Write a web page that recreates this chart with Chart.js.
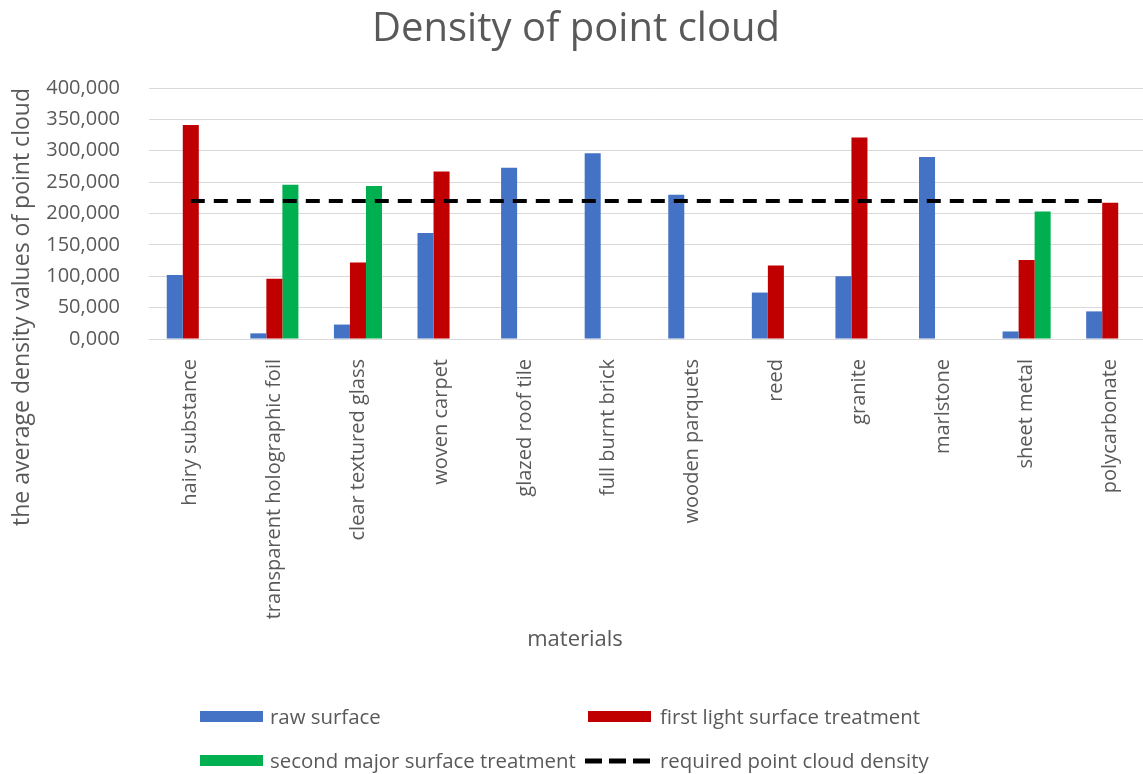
<!DOCTYPE html>
<html>
<head>
<meta charset="utf-8">
<title>Density of point cloud</title>
<script src="https://cdn.jsdelivr.net/npm/chart.js@4.4.1/dist/chart.umd.min.js"></script>
<style>
  html, body { margin: 0; padding: 0; background: #ffffff; overflow: hidden; }
  #wrap { position: relative; width: 1143px; height: 774px; overflow: hidden; background: #ffffff; }
  #c { position: absolute; left: 0; top: 0; }
  .lg-text { position: absolute; font-family: "Open Sans", sans-serif; font-size: 20.4px; line-height: 26px; color: #595959; white-space: nowrap; }
  .lg-box { position: absolute; }
  .lg-line { position: absolute; }
</style>
</head>
<body>
<div id="wrap">
  <canvas id="c" width="1152" height="774"></canvas>
  <div id="legend"></div>
</div>
<script>
// Materials on the x axis
const categories = [
  'hairy substance', 'transparent holographic foil', 'clear textured glass', 'woven carpet',
  'glazed roof tile', 'full burnt brick', 'wooden parquets', 'reed',
  'granite', 'marlstone', 'sheet metal', 'polycarbonate'
];

// Average point cloud density per material and treatment (null = not measured)
const rawSurface       = [102, 9, 23, 169, 273, 296, 230, 74, 100, 290, 12, 44];
const firstTreatment   = [341, 96, 122, 267, null, null, null, 117, 321, null, 126, 217];
const secondTreatment  = [null, 246, 244, null, null, null, null, null, null, null, 203, null];
const requiredDensity  = [220, 220, 220, 220, 220, 220, 220, 220, 220, 220, 220, 220];

// Value axis ticks
const densityTicks = [0, 50, 100, 150, 200, 250, 300, 350, 400];

const seriesLabels = [
  'raw surface',
  'first light surface treatment',
  'second major surface treatment',
  'required point cloud density'
];

const TEXT = '#595959';
const FONT = '"Open Sans", sans-serif';
const COLORS = ['#4472C4', '#C00000', '#00B050', '#000000'];

function fmtTick(v) {
  return Number(v).toFixed(3).replace('.', ',');
}

// Axis titles, placed relative to the whole figure rather than the plot area
const axisTitles = {
  id: 'axisTitles',
  afterDraw(chart) {
    const c = chart.ctx;
    c.save();
    c.fillStyle = TEXT;
    c.textAlign = 'center';
    c.textBaseline = 'middle';
    c.font = '22px ' + FONT;
    c.fillText('materials', 575, 640);
    c.translate(22, 307);
    c.rotate(-Math.PI / 2);
    c.font = '23px ' + FONT;
    c.fillText('the average density values of point cloud', 0, 0);
    c.restore();
  }
};

function buildLegend(chart) {
  const host = document.getElementById('legend');
  const slots = [[200, 717], [588, 717], [200, 761], [585, 761]];
  chart.data.datasets.forEach((ds, i) => {
    const [x, y] = slots[i];
    if (ds.type === 'line') {
      const svg = document.createElementNS('http://www.w3.org/2000/svg', 'svg');
      svg.setAttribute('class', 'lg-line');
      svg.setAttribute('width', '66');
      svg.setAttribute('height', '8');
      svg.style.left = x + 'px';
      svg.style.top = (y - 4) + 'px';
      const ln = document.createElementNS('http://www.w3.org/2000/svg', 'line');
      ln.setAttribute('x1', '0'); ln.setAttribute('y1', '4');
      ln.setAttribute('x2', '66'); ln.setAttribute('y2', '4');
      ln.setAttribute('stroke', ds.borderColor);
      ln.setAttribute('stroke-width', '5');
      ln.setAttribute('stroke-dasharray', '17 7');
      svg.appendChild(ln);
      host.appendChild(svg);
    } else {
      const box = document.createElement('div');
      box.className = 'lg-box';
      box.style.left = x + 'px';
      box.style.top = (y - 6) + 'px';
      box.style.width = '63px';
      box.style.height = '11px';
      box.style.background = ds.backgroundColor;
      host.appendChild(box);
    }
    const t = document.createElement('div');
    t.className = 'lg-text';
    t.textContent = ds.label;
    t.style.left = (x + (i % 2 === 0 ? 70 : 72) + (ds.type === 'line' ? 3 : 0)) + 'px';
    t.style.top = (y - 14) + 'px';
    host.appendChild(t);
  });
}

function draw() {
  const ctx = document.getElementById('c').getContext('2d');
  const chart = new Chart(ctx, {
    type: 'bar',
    data: {
      labels: categories,
      datasets: [
        { label: seriesLabels[0], data: rawSurface, backgroundColor: COLORS[0], order: 1 },
        { label: seriesLabels[1], data: firstTreatment, backgroundColor: COLORS[1], order: 1 },
        { label: seriesLabels[2], data: secondTreatment, backgroundColor: COLORS[2], order: 1 },
        {
          type: 'line', label: seriesLabels[3], data: requiredDensity,
          borderColor: COLORS[3], borderWidth: 4, borderDash: [14, 9],
          pointRadius: 0, fill: false, tension: 0, order: 0
        }
      ]
    },
    options: {
      responsive: false,
      animation: false,
      devicePixelRatio: 1,
      layout: { padding: { left: 0, right: 0, top: 0, bottom: 118 } },
      datasets: { bar: { categoryPercentage: 0.575, barPercentage: 1.0, borderWidth: 0 } },
      plugins: {
        legend: { display: false },
        tooltip: { enabled: false },
        title: {
          display: true,
          text: 'Density of point cloud',
          color: TEXT,
          font: { family: FONT, size: 40, weight: 'normal' },
          padding: { top: 6, bottom: 34 }
        }
      },
      scales: {
        x: {
          grid: { display: false },
          border: { display: false },
          ticks: {
            color: TEXT,
            font: { family: FONT, size: 20 },
            minRotation: 90, maxRotation: 90,
            autoSkip: false,
            padding: 12
          },
          afterFit(scale) { scale.height = 317; }
        },
        y: {
          min: 0, max: 400,
          afterBuildTicks(scale) { scale.ticks = densityTicks.map(v => ({ value: v })); },
          grid: { color: '#D9D9D9', lineWidth: 1, drawTicks: false },
          border: { display: false },
          ticks: {
            color: TEXT,
            font: { family: FONT, size: 20 },
            padding: 29,
            callback: (v) => fmtTick(v)
          },
          afterFit(scale) { scale.width = 149; }
        }
      }
    },
    plugins: [axisTitles]
  });
  buildLegend(chart);
}

Promise.all([
  document.fonts.load('20px "Open Sans"'),
  document.fonts.load('40px "Open Sans"')
]).then(draw, draw);
</script>
</body>
</html>
